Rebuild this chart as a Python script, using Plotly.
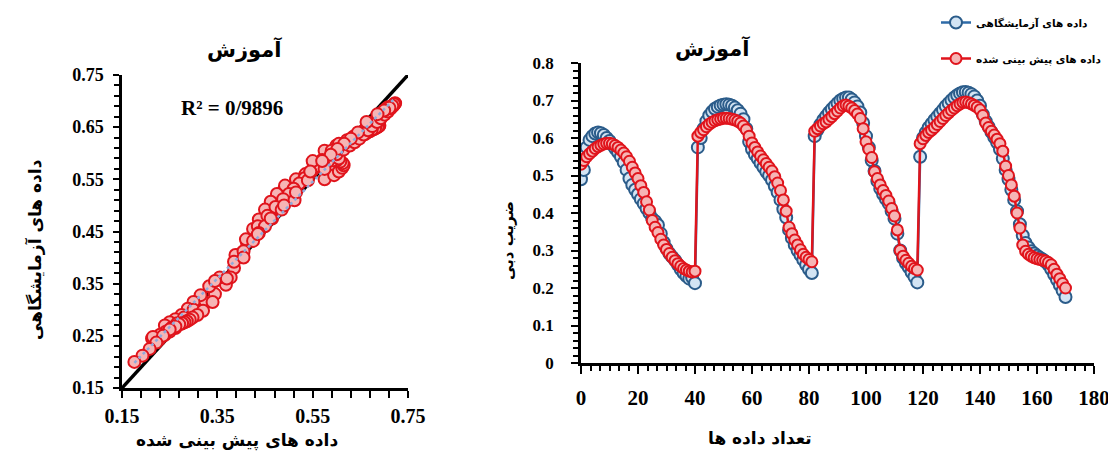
import numpy as np
import plotly.graph_objects as go

# ---------------- data ----------------
sample_index = list(range(171))

lab_values = [
    # cycle 1 (0-40)
    0.490, 0.515, 0.575, 0.595, 0.605, 0.612, 0.615, 0.613, 0.608, 0.600,
    0.592, 0.582, 0.572, 0.562, 0.550, 0.535, 0.515, 0.492, 0.475, 0.462,
    0.450, 0.437, 0.425, 0.412, 0.400, 0.385, 0.378, 0.368, 0.345, 0.322,
    0.305, 0.292, 0.283, 0.274, 0.262, 0.250, 0.240, 0.232, 0.225, 0.228,
    0.213,
    # cycle 2 (41-81)
    0.575, 0.600, 0.625, 0.645, 0.660, 0.670, 0.678, 0.683, 0.687, 0.689,
    0.690, 0.689, 0.686, 0.681, 0.674, 0.665, 0.650, 0.625, 0.590, 0.570,
    0.556, 0.545, 0.533, 0.522, 0.510, 0.500, 0.488, 0.472, 0.455, 0.435,
    0.410, 0.388, 0.355, 0.333, 0.315, 0.300, 0.288, 0.275, 0.262, 0.250,
    0.240,
    # cycle 3 (82-118)
    0.605, 0.622, 0.636, 0.648, 0.658, 0.668, 0.677, 0.685, 0.693, 0.700,
    0.705, 0.708, 0.708, 0.703, 0.695, 0.684, 0.668, 0.640, 0.605, 0.575,
    0.540, 0.512, 0.485, 0.465, 0.450, 0.437, 0.425, 0.405, 0.385, 0.345,
    0.300, 0.280, 0.266, 0.255, 0.242, 0.230, 0.215,
    # cycle 4 (119-170)
    0.550, 0.600, 0.615, 0.628, 0.638, 0.648, 0.657, 0.666, 0.675, 0.685,
    0.693, 0.701, 0.708, 0.714, 0.719, 0.722, 0.723, 0.721, 0.717, 0.711,
    0.700, 0.686, 0.663, 0.645, 0.630, 0.616, 0.602, 0.588, 0.570, 0.545,
    0.515, 0.490, 0.462, 0.435, 0.405, 0.370, 0.340, 0.320, 0.308, 0.298,
    0.292, 0.286, 0.281, 0.276, 0.270, 0.262, 0.250, 0.236, 0.222, 0.208,
    0.193, 0.176,
]

predicted_values = [
    # cycle 1 (0-40)
    0.530, 0.540, 0.550, 0.558, 0.565, 0.572, 0.577, 0.581, 0.584, 0.586,
    0.586, 0.584, 0.580, 0.575, 0.568, 0.560, 0.550, 0.538, 0.522, 0.507,
    0.492, 0.473, 0.455, 0.430, 0.408, 0.380, 0.362, 0.348, 0.330, 0.315,
    0.303, 0.292, 0.282, 0.273, 0.265, 0.258, 0.252, 0.248, 0.245, 0.243,
    0.245,
    # cycle 2 (41-81)
    0.605, 0.615, 0.622, 0.630, 0.637, 0.642, 0.646, 0.649, 0.651, 0.653,
    0.653, 0.652, 0.650, 0.648, 0.645, 0.640, 0.632, 0.622, 0.605, 0.587,
    0.575, 0.563, 0.552, 0.542, 0.532, 0.522, 0.512, 0.497, 0.480, 0.460,
    0.435, 0.405, 0.362, 0.345, 0.328, 0.315, 0.302, 0.290, 0.282, 0.276,
    0.270,
    # cycle 3 (82-118)
    0.618, 0.625, 0.632, 0.638, 0.643, 0.650, 0.657, 0.665, 0.672, 0.680,
    0.686, 0.688, 0.685, 0.680, 0.673, 0.664, 0.652, 0.625, 0.590, 0.570,
    0.548, 0.510, 0.492, 0.475, 0.460, 0.447, 0.432, 0.412, 0.392, 0.355,
    0.300, 0.285, 0.274, 0.266, 0.258, 0.252, 0.248,
    # cycle 4 (119-170)
    0.585, 0.598, 0.607, 0.615, 0.621, 0.628, 0.636, 0.644, 0.652, 0.660,
    0.667, 0.674, 0.680, 0.686, 0.691, 0.695, 0.696, 0.694, 0.691, 0.687,
    0.682, 0.675, 0.660, 0.640, 0.628, 0.618, 0.608, 0.597, 0.585, 0.565,
    0.525, 0.500, 0.475, 0.445, 0.400, 0.360, 0.315, 0.298, 0.290, 0.285,
    0.281, 0.278, 0.276, 0.274, 0.272, 0.268, 0.262, 0.250, 0.237, 0.225,
    0.212, 0.200,
]

series_names = ["داده های آزمایشگاهی", "داده های پیش بینی شده"]
chart_title = "آموزش"
r2_label = "R² = 0/9896"
scatter_x_title = "داده های پیش بینی شده"
scatter_y_title = "داده های آزمایشگاهی"
series_x_title = "تعداد داده ها"
series_y_title = "ضریب دبی"

scatter_range = [0.15, 0.75]
series_x_range = [0, 180]
series_y_range = [0, 0.8]

# ---------------- style ----------------
OFF = 8                      # page body margin
W, H = 1116 - OFF, 461 - 2 * OFF
SERIF = "Liberation Serif"
FA = "DejaVu Sans"
BLUE_LINE = "#2E6BA8"
BLUE_EDGE = "#2B5C8A"
BLUE_FILL = "#D3E4F3"
RED_LINE = "#E0141C"
RED_FILL = "#F6B5B5"

def px_x(p):
    return (p - OFF) / W

def px_y(p):
    return 1 - (p - OFF) / H

fig = go.Figure()

# ----- left: scatter -----
fig.add_trace(go.Scatter(
    x=scatter_range, y=scatter_range, mode="lines",
    line=dict(color="black", width=3.5), xaxis="x", yaxis="y",
    showlegend=False, hoverinfo="skip"))

fig.add_trace(go.Scatter(
    x=lab_values, y=predicted_values, mode="markers",
    marker=dict(size=12, color=RED_FILL, line=dict(color=RED_LINE, width=2)),
    xaxis="x", yaxis="y", showlegend=False))

lab_arr = np.array(lab_values)
pred_arr = np.array(predicted_values)
slope, intercept = np.polyfit(lab_arr, pred_arr, 1)
fit_x = np.array([lab_arr.min(), lab_arr.max()])
fig.add_trace(go.Scatter(
    x=fit_x, y=slope * fit_x + intercept, mode="lines",
    line=dict(color="#8FAADC", width=2.5, dash="dot"),
    xaxis="x", yaxis="y", showlegend=False, hoverinfo="skip"))

# ----- right: time series -----
fig.add_trace(go.Scatter(
    x=sample_index, y=lab_values, mode="lines+markers", name=series_names[0],
    line=dict(color=BLUE_LINE, width=2.5),
    marker=dict(size=12, color=BLUE_FILL, line=dict(color=BLUE_EDGE, width=2)),
    xaxis="x2", yaxis="y2", legendgroup="a"))

fig.add_trace(go.Scatter(
    x=sample_index, y=predicted_values, mode="lines+markers", name=series_names[1],
    line=dict(color=RED_LINE, width=2.5),
    marker=dict(size=11, color=RED_FILL, line=dict(color=RED_LINE, width=2)),
    xaxis="x2", yaxis="y2", legendgroup="b"))

axis_common = dict(showline=True, linecolor="black", showgrid=False,
                   zeroline=False, ticks="outside", tickcolor="black",
                   mirror=False, fixedrange=True, automargin=False,
                   ticklabeloverflow="allow")

fig.update_layout(
    width=W, height=H,
    margin=dict(l=0, r=0, t=0, b=0, autoexpand=False),
    paper_bgcolor="white", plot_bgcolor="white",
    xaxis=dict(domain=[px_x(122), px_x(408)], range=scatter_range,
               tick0=0.15, dtick=0.2, ticklen=7, tickwidth=2, linewidth=2.5,
               tickformat=".2f", ticklabelstandoff=1,
               tickfont=dict(family=SERIF, size=20, color="black", weight="bold"),
               minor=dict(dtick=0.04, tick0=0.15, ticks="outside", ticklen=7,
                          tickwidth=2, tickcolor="black"),
               anchor="y", **axis_common),
    yaxis=dict(domain=[px_y(388), px_y(75)], range=scatter_range,
               tick0=0.15, dtick=0.1, ticklen=6, tickwidth=2, linewidth=2.5,
               tickformat=".2f", ticklabelstandoff=6,
               tickfont=dict(family=SERIF, size=18, color="black", weight="bold"),
               minor=dict(dtick=0.02, tick0=0.15, ticks="outside", ticklen=5,
                          tickwidth=1.5, tickcolor="black"),
               anchor="x", **axis_common),
    xaxis2=dict(domain=[px_x(581), px_x(1094)], range=series_x_range,
                tick0=0, dtick=20, ticklen=8, tickwidth=2, linewidth=2.5,
                ticklabelstandoff=6,
                tickfont=dict(family=SERIF, size=21, color="black", weight="bold"),
                minor=dict(dtick=20 / 6, tick0=0, ticks="outside", ticklen=5,
                           tickwidth=1.5, tickcolor="black"),
                anchor="y2", **axis_common),
    yaxis2=dict(domain=[px_y(363), px_y(63)], range=series_y_range,
                tick0=0, dtick=0.1, ticklen=7, tickwidth=2, linewidth=2.5,
                ticklabelstandoff=14,
                tickfont=dict(family=SERIF, size=17, color="black", weight="bold"),
                minor=dict(dtick=0.02, tick0=0, ticks="outside", ticklen=5,
                           tickwidth=1.5, tickcolor="black"),
                anchor="x2", **axis_common),
    legend=dict(x=px_x(936), y=px_y(8), xanchor="left", yanchor="top",
                bgcolor="rgba(0,0,0,0)", tracegroupgap=17, itemwidth=30,
                font=dict(family=FA, size=10.5, color="black", weight="bold")),
    showlegend=True,
)

ann = []
ann.append(dict(text=chart_title, x=px_x(245), y=px_y(50),
                font=dict(family=FA, size=21, color="black", weight="bold")))
ann.append(dict(text=chart_title, x=px_x(712), y=px_y(48),
                font=dict(family=FA, size=21, color="black", weight="bold")))
ann.append(dict(text=r2_label, x=px_x(232), y=px_y(108),
                font=dict(family=SERIF, size=21, color="black", weight="bold")))
ann.append(dict(text=scatter_y_title, x=px_x(35), y=px_y(250), textangle=-90,
                font=dict(family=FA, size=17, color="black", weight="bold")))
ann.append(dict(text=series_y_title, x=px_x(508), y=px_y(240), textangle=-90,
                font=dict(family=FA, size=15, color="black", weight="bold")))
ann.append(dict(text=scatter_x_title, x=px_x(237), y=px_y(440),
                font=dict(family=FA, size=17, color="black", weight="bold")))
ann.append(dict(text=series_x_title, x=px_x(760), y=px_y(438),
                font=dict(family=FA, size=17, color="black", weight="bold")))
for a in ann:
    a.update(xref="paper", yref="paper", showarrow=False,
             xanchor="center", yanchor="middle")
fig.update_layout(annotations=ann)

fig.write_html("out.html")
